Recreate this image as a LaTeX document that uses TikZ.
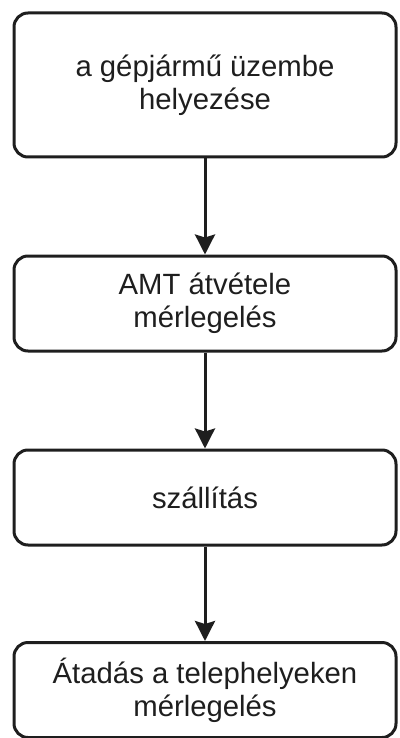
\documentclass[tikz,border=0pt]{standalone}
\usepackage{fontspec}
\setmainfont{Liberation Sans}
\usetikzlibrary{arrows.meta}
\definecolor{boxline}{HTML}{1E1E1E}
\definecolor{textcol}{HTML}{1E1E1E}

\begin{document}
\begin{tikzpicture}[x=1pt,y=-1pt,
  phase/.style={shape=rectangle,rounded corners=14pt,draw=boxline,line width=3pt,
    minimum width=382pt,align=center,text=textcol,
    font=\fontsize{29.3}{33}\selectfont},
  >={Stealth[length=20pt,width=20pt,inset=3pt]}]
%[inner sep=1mm]
\useasboundingbox (0,0) rectangle (399,738);
\path (205,85) node (install) [phase,minimum height=144pt] {a gépjármű üzembe\\helyezése};
\path (205,303.5) node (takeover) [phase,minimum height=95pt] {AMT átvétele\\mérlegelés};
\path (205,497.5) node (transport) [phase,minimum height=95pt] {szállítás};
\path (205,690) node (handover) [phase,minimum height=95pt] {Átadás a telephelyeken\\mérlegelés};

\draw [->,line width=3pt,draw=boxline,fill=boxline] (install) to (takeover);
\draw [->,line width=3pt,draw=boxline,fill=boxline] (takeover) to (transport);
\draw [->,line width=3pt,draw=boxline,fill=boxline] (transport) to (handover);
\end{tikzpicture}
\end{document}
